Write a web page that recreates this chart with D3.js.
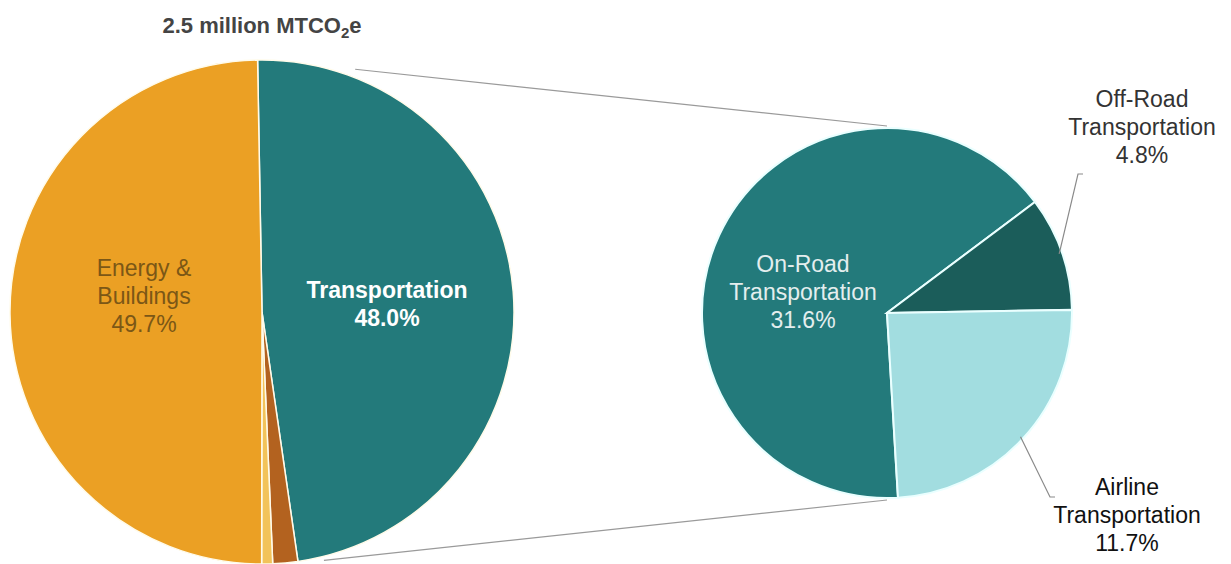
<!DOCTYPE html>
<html>
<head>
<meta charset="utf-8">
<script src="https://cdn.jsdelivr.net/npm/d3@7"></script>
<style>
  body { margin: 0; background: #fff; }
  svg { display: block; }
</style>
</head>
<body>
<svg id="chart" width="1231" height="564"></svg>
<script>
// main pie
const sectors = ["Transportation", "Other", "Minor", "Energy & Buildings"];
const sectorValues = [48.0, 1.6, 0.7, 49.7];
const sectorColors = ["#237a7b", "#b3621f", "#f2c35a", "#eba024"];

// breakdown of transportation
const subsectors = ["On-Road", "Off-Road", "Airline"];
const subsectorValues = [31.6, 4.8, 11.7];
const subsectorColors = ["#237a7b", "#1b5d5a", "#a2dde0"];

const title = "2.5 million MTCO";

const svg = d3.select("#chart");
const font = "Liberation Sans, Arial, Helvetica, sans-serif";
const deg = Math.PI / 180;

const big = { cx: 262, cy: 312, r: 252 };
const small = { cx: 887, cy: 313, r: 185 };

const bigData = sectors.map((name, i) => ({ name, value: sectorValues[i], color: sectorColors[i] }));
const smallData = subsectors.map((name, i) => ({ name, value: subsectorValues[i], color: subsectorColors[i] }));

const bigPie = d3.pie().value(d => d.value).sort(null)
  .startAngle(-1 * deg).endAngle(359 * deg);
const smallPie = d3.pie().value(d => d.value).sort(null)
  .startAngle(176.6 * deg).endAngle(536.6 * deg);

const bigArc = d3.arc().innerRadius(0).outerRadius(big.r);
const smallArc = d3.arc().innerRadius(0).outerRadius(small.r);

// point on a circle, angle clockwise from 12 o'clock
function pt(c, r, a) {
  return [c.cx + r * Math.sin(a * deg), c.cy - r * Math.cos(a * deg)];
}

// connector lines between pies
const connectors = [
  [pt(big, big.r + 8, 21), pt(small, small.r + 2, 0)],
  [pt(big, big.r + 4, 166), pt(small, small.r + 2, 180)]
];
svg.append("g").selectAll("line")
  .data(connectors)
  .join("line")
  .attr("x1", d => d[0][0]).attr("y1", d => d[0][1])
  .attr("x2", d => d[1][0]).attr("y2", d => d[1][1])
  .attr("stroke", "#9a9a9a")
  .attr("stroke-width", 1.2);

svg.append("g")
  .attr("transform", `translate(${big.cx},${big.cy})`)
  .selectAll("path")
  .data(bigPie(bigData))
  .join("path")
  .attr("d", bigArc)
  .attr("fill", d => d.data.color)
  .attr("stroke", "#fffbea")
  .attr("stroke-width", 1.5);

svg.append("g")
  .attr("transform", `translate(${small.cx},${small.cy})`)
  .selectAll("path")
  .data(smallPie(smallData))
  .join("path")
  .attr("d", smallArc)
  .attr("fill", d => d.data.color)
  .attr("stroke", "#eaffff")
  .attr("stroke-width", 2);

// title
const t = svg.append("text")
  .attr("x", big.cx)
  .attr("y", 33)
  .attr("text-anchor", "middle")
  .attr("font-family", font)
  .attr("font-size", "22px")
  .attr("font-weight", "bold")
  .attr("fill", "#444");
t.append("tspan").text(title);
t.append("tspan").attr("font-size", "15px").attr("dy", 5).text("2");
t.append("tspan").attr("dy", -5).text("e");

function label(x, y, lines, color, weight) {
  const txt = svg.append("text")
    .attr("text-anchor", "middle")
    .attr("font-family", font)
    .attr("font-size", "23px")
    .attr("font-weight", weight || "normal")
    .attr("fill", color);
  lines.forEach((s, i) => {
    txt.append("tspan").attr("x", x).attr("y", y + i * 28).text(s);
  });
}

const pct = v => v.toFixed(1) + "%";

label(144, 276, ["Energy &", "Buildings", pct(sectorValues[3])], "#7b5716");
label(387, 298, ["Transportation", pct(sectorValues[0])], "#ffffff", "bold");
label(803, 272, [subsectors[0], "Transportation", pct(subsectorValues[0])], "#e4eeee");
label(1142, 107, [subsectors[1], "Transportation", pct(subsectorValues[1])], "#333");
label(1127, 495, [subsectors[2], "Transportation", pct(subsectorValues[2])], "#111");

// leader lines for the small slices
const slices = smallPie(smallData);
const leaders = [
  { a: (slices[1].startAngle + slices[1].endAngle) / 2, elbow: [1078, 174], end: [1083, 174] },
  { a: (slices[2].startAngle + slices[2].endAngle) / 2, elbow: [1050, 497], end: [1055, 497] }
];
svg.append("g").selectAll("polyline")
  .data(leaders)
  .join("polyline")
  .attr("points", d => {
    const s = pt(small, small.r - 3, d.a / deg);
    return [s, d.elbow, d.end].map(p => p.join(",")).join(" ");
  })
  .attr("fill", "none")
  .attr("stroke", "#8a8a8a")
  .attr("stroke-width", 1.2);
</script>
</body>
</html>
